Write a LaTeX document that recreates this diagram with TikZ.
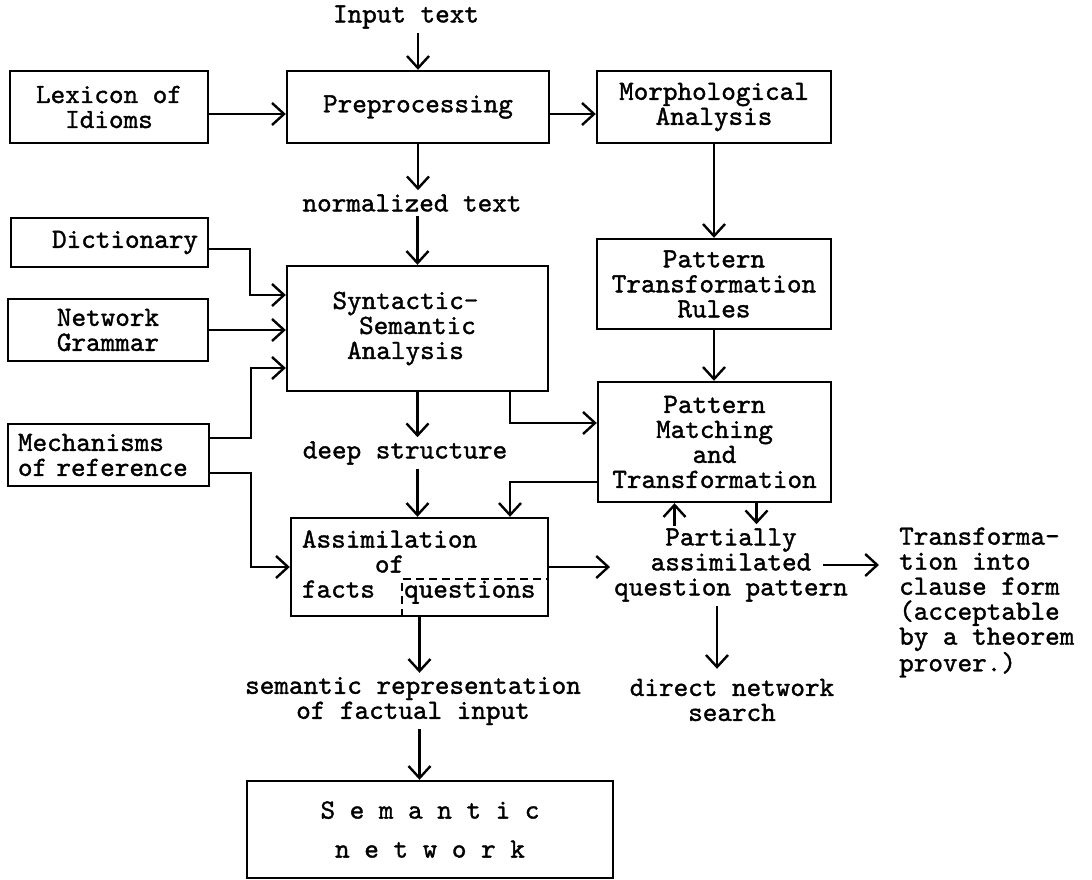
\documentclass[tikz,border=0pt]{standalone}
\usepackage{fontspec}
\usepackage{tikz}
\usetikzlibrary{arrows.meta}

\newfontfamily\typer{lmmono10-regular.otf}[FakeBold=1.3]

\tikzset{
    block/.style={draw, align=center, inner sep=0pt},
    txt/.style={inner sep=3pt, align=center},
    qline/.style={line width=1.6pt, dash pattern=on 8pt off 5pt},
}

\begin{document}
\begin{tikzpicture}[x=1pt, y=-1pt, >={Straight Barb[length=12pt,width=22pt]},
        line width=2.4pt, font=\typer\fontsize{27.8}{25}\selectfont]
    \useasboundingbox (0,0) rectangle (1092,880);

    % boxes
    \node[block, minimum width=198pt, minimum height=72pt] (lex) at (109, 107) {Lexicon of\\Idioms};
    \node[block, minimum width=262pt, minimum height=72pt] (pre) at (418, 107) {Preprocessing};
    \node[block, minimum width=234pt, minimum height=72pt] (morph) at (714, 107) {Morphological\\Analysis};
    \node[block, text width=177pt, align=right, inner xsep=10pt, minimum height=49pt] (dict) at (109.5, 242.5) {Dictionary};
    \node[block, minimum width=200pt, minimum height=62pt] (ng) at (108, 330) {Network\\Grammar};
    \node[block, text width=181pt, align=left, inner xsep=10pt, minimum height=62pt] (mech) at (108.5, 455) {Mechanisms\\of reference};
    \node[block, minimum width=261pt, minimum height=125pt] (syn) at (417.5, 328.5) {Syntactic-\hspace*{24pt}\\Semantic\hspace*{24pt}\\Analysis\hspace*{24pt}};
    \node[block, minimum width=234pt, minimum height=90pt] (ptr) at (714, 284) {Pattern\\Transformation\\Rules};
    \node[block, minimum width=233pt, minimum height=120pt] (pm) at (714.5, 442) {Pattern\\Matching\\and\\Transformation};
    \node[block, text width=235pt, align=left, inner xsep=11pt, minimum height=98pt] (assim) at (419.5, 567) {Assimilation\\\hspace*{2.625em}of\\facts\hspace*{1.05em}questions};
    \node[block, minimum width=366pt, minimum height=97pt] (sn) at (430, 829.5) {S e m a n t i c\\[14pt]n e t w o r k};

    % free text
    \node[txt] (input) at (406, 17) {Input text};
    \node[txt] (ntext) at (412, 203) {normalized text};
    \node[txt] (deep) at (405, 453) {deep structure};
    \node[txt] (part) at (731, 565) {Partially\\assimilated\\question pattern};
    \node[txt, anchor=west, align=left] (trans) at (895, 602.5) {Transforma-\\tion into\\clause form\\(acceptable\\by a theorem\\prover.)};
    \node[txt] (dir) at (732, 700) {direct network\\search};
    \node[txt] (semrep) at (413, 701) {semantic representation\\of factual input};

    \path[->]
        (input.south -| pre) edge (pre.north)
        (pre.south) edge (pre.south |- ntext.north)
        (ntext.south -| syn) edge (syn.north)
        ([yshift=-7pt]lex.east) edge ([yshift=-7pt]pre.west)
        ([yshift=-7pt]pre.east) edge ([yshift=-7pt]morph.west)
        (morph) edge (ptr)
        (ptr.south) edge (ptr.south |- pm.north)
        (ng.east) edge (ng.east -| syn.west)
        (syn.south) edge (syn.south |- deep.north)
        (deep.south -| syn) edge (assim.north -| syn)
        (assim.east) edge (assim.east -| part.west)
        (assim.south) edge (assim.south |- semrep.north)
        (semrep.south -| assim) edge (sn.north -| assim)
    ;

    % elbow connectors
    \draw[->] ([yshift=-6.5pt]dict.east) -- ++(41,0) |- ([yshift=33.5pt]syn.west);
    \draw[->] ([yshift=17pt]mech.east) -- ++(41,0) |- ([yshift=-39.5pt]syn.west);
    \draw[->] ([yshift=-18pt]mech.east) -- ++(41,0) |- (assim.west);
    \draw[->] ([xshift=92.5pt]syn.south) |- ([yshift=19pt]pm.west);
    \draw[->] ([yshift=-40pt]pm.west) -| ([xshift=90.5pt]assim.north);

    % short arrows round the question pattern
    \draw[<-] ([xshift=-40pt]pm.south) -- ++(0,23);
    \draw[->] ([xshift=42pt]pm.south) -- ++(0,21);
    \draw[->] ([xshift=-14pt]part.south) -- ++(0,63);
    \draw[->, shorten >=16pt] ([xshift=-29pt]part.east) -- (part.east -| trans.west);

    % questions part of the assimilation box
    \draw[qline] ([xshift=-17.5pt]assim.south) |- ([yshift=-12pt]assim.east);
\end{tikzpicture}
\end{document}
